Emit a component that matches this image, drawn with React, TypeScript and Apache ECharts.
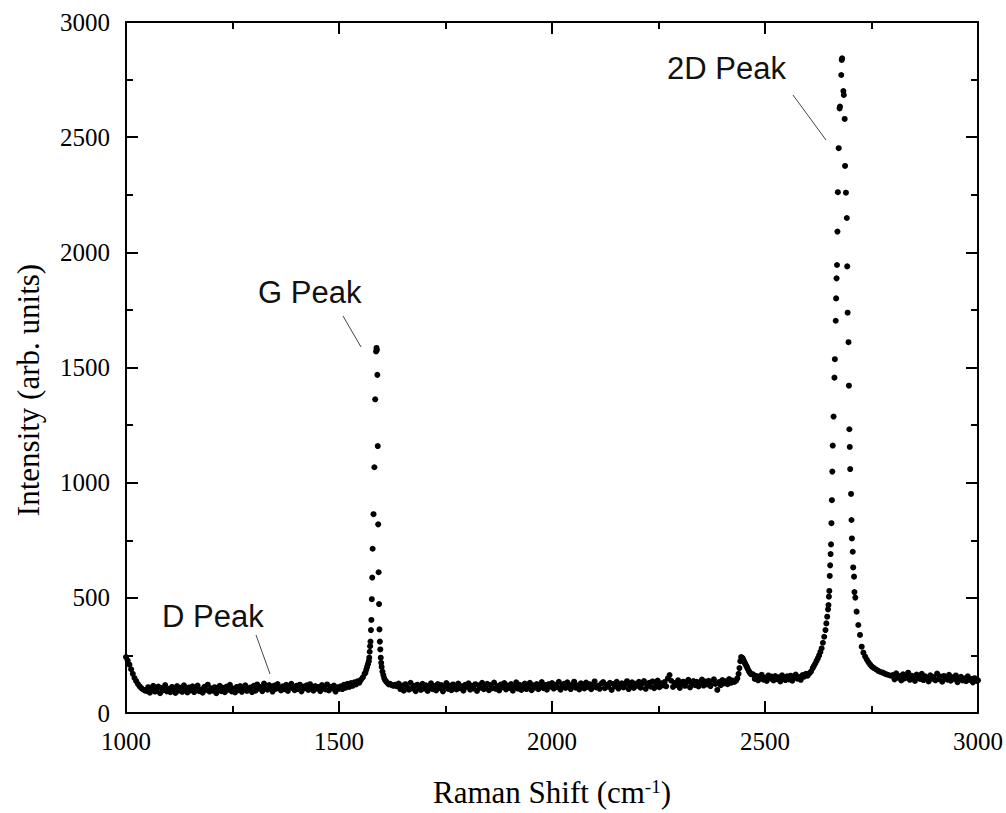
import React, { useEffect, useRef } from "react";
import * as echarts from "echarts";

// Raman spectrum: baseline segments sampled every 4 cm-1 (start, values)
const baseAStart = 1000;
const baseA = [
  243, 228, 210, 190, 170, 152, 138, 126, 116, 108, 102, 98,
  96, 112, 88, 105, 118, 93, 101, 115, 86, 108, 99, 121, 94, 104, 90, 113, 100, 87, 117, 97,
  109, 92, 120, 103, 89, 111, 98, 116, 91, 106, 119, 95, 102, 88, 114, 100, 123, 93, 107, 97,
  112, 86, 104, 118, 95, 109, 90, 115, 101, 122, 94, 106, 89, 113, 99, 117, 92, 108, 120, 96,
  103, 111, 91,
  118, 97, 124, 106, 113, 95, 128, 109, 101, 121, 114, 93, 119, 105, 126, 110, 98, 116, 103, 122,
  96, 112, 127, 107, 99, 118, 104, 123, 94, 115, 108, 120, 100, 125, 111, 97, 117, 106, 113, 95,
  121, 109, 102, 124, 98, 114, 107, 119, 93, 112, 105,
  116, 104, 123, 110, 127, 113, 130, 118, 133, 124, 138, 132, 145, 155, 170,
];

const gPeak = [
  [1562, 175], [1564, 188], [1566, 200], [1568, 212], [1570, 225], [1571, 240], [1572, 266],
  [1573, 290], [1574, 310], [1575, 360], [1576, 404], [1577, 494], [1578, 588], [1579, 713],
  [1581, 863], [1583, 1067], [1585, 1362], [1587, 1570], [1588, 1585], [1589, 1576],
  [1590, 1468], [1591, 1159], [1592, 819], [1593, 611], [1594, 473], [1595, 363], [1596, 310],
  [1597, 276], [1598, 240], [1599, 218], [1600, 200], [1602, 180], [1604, 165], [1606, 152],
  [1608, 143], [1611, 136], [1614, 130], [1617, 124], [1620, 127], [1624, 121], [1628, 118],
  [1632, 123], [1636, 116],
];

const baseBStart = 1640;
const baseB = [
  128, 104, 119, 97, 125, 110, 101, 131, 107, 118, 95, 123, 112, 100, 127, 106, 120, 96, 114, 129,
  103, 117, 98, 126, 109, 121, 94, 115, 130, 105, 119, 99, 124, 111, 102, 128, 108, 116, 97, 122,
  113, 129, 101, 118, 107, 125, 96, 120, 110, 131, 103, 116, 127, 99, 121, 108, 132, 105, 117, 98,
  124, 112, 130, 102, 119, 109, 126, 97, 115, 133, 106, 122, 100, 118, 128, 104, 113, 131, 99, 120,
  110, 126, 103, 117, 134, 108, 121, 101, 125, 114,
  130, 106, 122, 112, 135, 101, 119, 127, 109, 133, 115, 104, 124, 136, 110, 120, 102, 129, 117, 107,
  132, 113, 125, 103, 121, 137, 111, 118, 105, 128, 134, 108, 123, 114, 131, 100, 126, 116, 135, 106,
  119, 129, 111, 124, 138, 104, 120, 133, 109, 127,
  118, 135, 110, 127, 139, 105, 123, 131, 114, 137, 108, 126, 141, 112, 129, 120, 134, 116, 150, 165,
  140, 113, 130, 122, 142, 109, 127, 136, 118, 133, 144, 111, 128, 139, 121, 135, 115, 131, 145, 119,
  137, 124, 140, 117, 132, 146, 126, 100, 134, 121, 143, 129, 138, 125, 147, 131, 141, 135,
];

const bump = [
  [2432, 140], [2435, 150], [2438, 170], [2440, 195], [2442, 225], [2444, 243], [2446, 240],
  [2448, 236], [2450, 228], [2452, 220], [2454, 212], [2456, 205], [2458, 198], [2460, 190],
  [2462, 182], [2464, 176], [2466, 171], [2468, 168],
];

const baseMidStart = 2472;
const baseMid = [
  168, 148, 161, 142, 157, 166, 145, 154, 139, 163, 150, 158, 141, 160, 147, 155, 137, 164, 151, 143,
  159, 146, 162, 140, 153, 167, 149, 156, 144, 165, 158, 170, 162,
];

const peak2D = [
  [2604, 172], [2608, 180], [2612, 195], [2615, 205], [2618, 215], [2621, 226], [2624, 237],
  [2627, 250], [2630, 265], [2633, 281], [2636, 305], [2639, 331], [2642, 360], [2644, 389],
  [2646, 418], [2648, 450], [2649, 469], [2650, 505], [2651, 530], [2652, 595], [2653, 641],
  [2654, 690], [2655, 732], [2656, 824], [2657, 924], [2658, 1048], [2659, 1161], [2661, 1287],
  [2663, 1456], [2664, 1536], [2666, 1703], [2667, 1800], [2668, 1887], [2669, 1945],
  [2670, 2090], [2671, 2261], [2673, 2452], [2675, 2625], [2676, 2633], [2679, 2770],
  [2680, 2835], [2681, 2842], [2684, 2700], [2685, 2683], [2687, 2579], [2688, 2375],
  [2690, 2259], [2692, 2149], [2693, 1939], [2694, 1738], [2696, 1610], [2697, 1421],
  [2698, 1232], [2699, 1155], [2700, 1059], [2702, 951], [2703, 838], [2704, 758], [2706, 700],
  [2707, 632], [2709, 592], [2710, 525], [2712, 501], [2715, 440], [2719, 382], [2723, 339],
  [2727, 288], [2731, 262], [2735, 245], [2739, 232], [2743, 220], [2747, 210], [2751, 201],
  [2755, 196], [2760, 190], [2765, 184], [2770, 179], [2775, 176], [2780, 172], [2785, 168],
  [2790, 165], [2795, 162],
];

const baseCStart = 2800;
const baseC = [
  165, 146, 172, 153, 160, 141, 168, 150, 157, 175, 144, 162, 151, 139, 167, 155, 148, 170, 143, 159,
  152, 137, 164, 149, 156, 142, 171, 147, 158, 136, 161, 150, 145, 166, 140, 155, 148, 163, 134, 152,
  157, 141, 150, 138, 159, 144, 148, 133, 151, 139, 142,
];

const sampleStep = 4;
const xTicks = [1000, 1500, 2000, 2500, 3000];
const yTicks = [0, 500, 1000, 1500, 2000, 2500, 3000];

const labels = [
  { text: "G Peak", x: 258, y: 293, line: [343, 316, 361, 347] },
  { text: "2D Peak", x: 667, y: 69, line: [793, 95, 826, 140] },
  { text: "D Peak", x: 162, y: 617, line: [256, 635, 270, 674] },
];

const seg = (start: number, ys: number[]) => ys.map((y, i) => [start + i * sampleStep, y]);

export default function App() {
  const ref = useRef<HTMLDivElement>(null);
  useEffect(() => {
    if (!ref.current) return;
    const chart = echarts.init(ref.current, null, { renderer: "svg" });
    const data = [
      ...seg(baseAStart, baseA),
      ...gPeak,
      ...seg(baseBStart, baseB),
      ...bump,
      ...seg(baseMidStart, baseMid),
      ...peak2D,
      ...seg(baseCStart, baseC),
    ];
    const serif = "'Times New Roman', 'Liberation Serif', serif";
    const sans = "Arial, 'Liberation Sans', sans-serif";
    const lineStyle = { color: "#000", width: 2 };
    const tick = { show: true, inside: true, length: 12, lineStyle: { color: "#000", width: 2 } };
    const minor = { show: true, splitNumber: 2, length: 7, lineStyle: { color: "#000", width: 2 } };
    const xMin = xTicks[0], xMax = xTicks[xTicks.length - 1];
    const yMin = yTicks[0], yMax = yTicks[yTicks.length - 1];
    const xInterval = xTicks[1] - xTicks[0];
    const yInterval = yTicks[1] - yTicks[0];
    const plain = (v: number) => String(v);
    chart.setOption({
      animation: false,
      backgroundColor: "#fff",
      grid: { left: 126, right: 28, top: 22, bottom: 100, containLabel: false },
      xAxis: [
        {
          type: "value", min: xMin, max: xMax, interval: xInterval, position: "bottom",
          axisLine: { show: true, onZero: false, lineStyle }, axisTick: tick, minorTick: minor,
          splitLine: { show: false }, minorSplitLine: { show: false },
          axisLabel: { color: "#000", fontFamily: serif, fontSize: 25, margin: 16, formatter: plain },
        },
        {
          type: "value", min: xMin, max: xMax, interval: xInterval, position: "top",
          axisLine: { show: true, onZero: false, lineStyle }, axisTick: tick, minorTick: minor,
          splitLine: { show: false }, axisLabel: { show: false },
        },
      ],
      yAxis: [
        {
          type: "value", min: yMin, max: yMax, interval: yInterval, position: "left",
          axisLine: { show: true, onZero: false, lineStyle }, axisTick: tick, minorTick: minor,
          splitLine: { show: false },
          axisLabel: { color: "#000", fontFamily: serif, fontSize: 25, margin: 16, formatter: plain },
        },
        {
          type: "value", min: yMin, max: yMax, interval: yInterval, position: "right",
          axisLine: { show: true, onZero: false, lineStyle }, axisTick: tick, minorTick: minor,
          splitLine: { show: false }, axisLabel: { show: false },
        },
      ],
      series: [
        {
          type: "scatter", xAxisIndex: 0, yAxisIndex: 0, data,
          symbol: "circle", symbolSize: 6,
          itemStyle: { color: "#000", opacity: 1 },
        },
      ],
      graphic: [
        ...labels.map((l) => ({
          type: "text", left: l.x, top: l.y - 16, z: 10,
          style: { text: l.text, fontFamily: sans, fontSize: 31, fill: "#111" },
        })),
        ...labels.map((l) => ({
          type: "line", z: 10,
          shape: { x1: l.line[0], y1: l.line[1], x2: l.line[2], y2: l.line[3] },
          style: { stroke: "#444", lineWidth: 1 },
        })),
        {
          type: "text", z: 10, x: 552, y: 792,
          style: {
            text: "Raman Shift (cm{sup|-1})",
            fontFamily: serif, fontSize: 31, fill: "#000",
            align: "center", verticalAlign: "middle",
            rich: {
              sup: { fontFamily: serif, fontSize: 19, verticalAlign: "top", lineHeight: 19, fill: "#000" },
            },
          },
        },
        {
          type: "text", z: 10, x: 28, y: 390, rotation: Math.PI / 2,
          style: {
            text: "Intensity (arb. units)",
            fontFamily: serif, fontSize: 31, fill: "#000",
            align: "center", verticalAlign: "middle",
          },
        },
      ],
    });
    return () => chart.dispose();
  }, []);
  return (
    <div
      ref={ref}
      style={{ position: "fixed", left: 0, top: 0, width: 1006, height: 813, background: "#fff" }}
    />
  );
}
